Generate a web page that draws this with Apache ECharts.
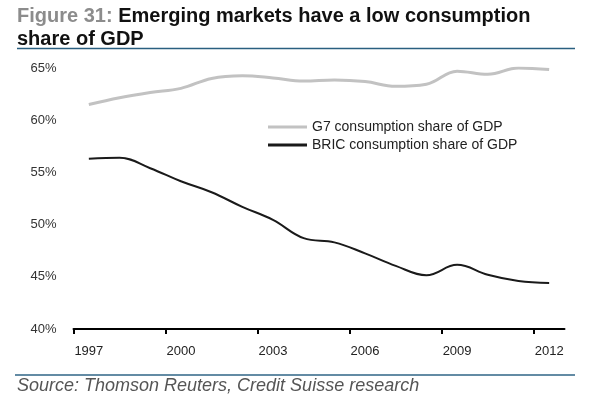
<!doctype html>
<html lang="en">
<head>
    <meta charset="UTF-8">
    <title>Emerging markets have a low consumption share of GDP</title>
    <script src="https://cdn.jsdelivr.net/npm/echarts@6/dist/echarts.min.js"></script>
    <style>
        body { margin: 0; background: #fff; }
        #main { width: 600px; height: 396px; }
    </style>
</head>
<body>
<div id="main"></div>
<script type="text/javascript">
    var years = [1997, 1998, 1999, 2000, 2001, 2002, 2003, 2004,
                 2005, 2006, 2007, 2008, 2009, 2010, 2011, 2012];
    // consumption share of GDP, %
    var g7 = [61.5, 62.15, 62.65, 63.05, 64.0, 64.25, 64.05, 63.75,
              63.85, 63.7, 63.25, 63.45, 64.7, 64.4, 65.0, 64.85];
    var bric = [56.3, 56.4, 55.4, 54.15, 53.1, 51.7, 50.45, 48.7,
                48.3, 47.25, 46.05, 45.15, 46.15, 45.2, 44.6, 44.4];
    var xLabels = [1997, 2000, 2003, 2006, 2009, 2012];
    var yTicks = [40, 45, 50, 55, 60, 65];

    var font = 'Liberation Sans, Arial, sans-serif';
    var myChart = echarts.init(document.getElementById('main'));

    // each year sits in the middle of its own slot, ticks on the slot edges
    function pairs(values) {
        return values.map(function (v, i) { return [years[i], v]; });
    }
    var tickEdges = xLabels.map(function (y) { return y - 0.5; });

    var option = {
        animation: false,
        textStyle: { fontFamily: font },
        title: [{
            left: 17,
            top: 0,
            padding: [5, 0, 0, 0],
            text: '{a|Figure 31: }{b|Emerging markets have a low consumption}\n{b|share of GDP}',
            textStyle: {
                rich: {
                    a: { color: '#8c8c8c', fontWeight: 'bold', fontSize: 20, lineHeight: 23, fontFamily: font },
                    b: { color: '#111', fontWeight: 'bold', fontSize: 20, lineHeight: 23, fontFamily: font }
                }
            }
        }, {
            left: 17,
            top: 377,
            padding: 0,
            text: 'Source: Thomson Reuters, Credit Suisse research',
            textStyle: { color: '#555', fontStyle: 'italic', fontWeight: 'normal', fontSize: 18, fontFamily: font }
        }],
        graphic: [{
            type: 'line',
            shape: { x1: 17, y1: 48.5, x2: 575, y2: 48.5 },
            style: { stroke: '#2a5f80', lineWidth: 1.5 }
        }, {
            type: 'line',
            shape: { x1: 15, y1: 375, x2: 575, y2: 375 },
            style: { stroke: '#2f6486', lineWidth: 1.5 }
        }],
        legend: {
            orient: 'vertical',
            left: 268,
            top: 120,
            padding: 0,
            itemWidth: 39,
            itemHeight: 3,
            itemGap: 4,
            icon: 'rect',
            textStyle: { color: '#222', fontSize: 14, fontFamily: font },
            data: ['G7 consumption share of GDP', 'BRIC consumption share of GDP']
        },
        grid: {
            left: 73.5,
            right: 35.5,
            top: 68,
            bottom: 67,
            containLabel: false
        },
        xAxis: {
            type: 'value',
            min: years[0] - 0.5,
            max: years[years.length - 1] + 0.5,
            axisLine: { show: true, onZero: false, lineStyle: { color: '#000', width: 2 } },
            axisTick: { show: true, customValues: tickEdges, length: 5, lineStyle: { color: '#000', width: 2 } },
            axisLabel: {
                customValues: xLabels,
                color: '#222',
                fontSize: 13,
                margin: 16,
                fontFamily: font,
                formatter: function (v) { return String(v); }
            },
            splitLine: { show: false }
        },
        yAxis: {
            type: 'value',
            min: yTicks[0],
            max: yTicks[yTicks.length - 1],
            interval: 5,
            axisLine: { show: false },
            axisTick: { show: false },
            splitLine: { show: false },
            axisLabel: { formatter: '{value}%', color: '#333', fontSize: 13, margin: 17, fontFamily: font }
        },
        series: [{
            name: 'G7 consumption share of GDP',
            type: 'line',
            data: pairs(g7),
            smooth: 0.4,
            symbol: 'none',
            itemStyle: { color: '#c2c2c2' },
            lineStyle: { color: '#c2c2c2', width: 3 }
        }, {
            name: 'BRIC consumption share of GDP',
            type: 'line',
            data: pairs(bric),
            smooth: 0.4,
            symbol: 'none',
            itemStyle: { color: '#1a1a1a' },
            lineStyle: { color: '#1a1a1a', width: 2 }
        }]
    };

    myChart.setOption(option);
</script>
</body>
</html>
